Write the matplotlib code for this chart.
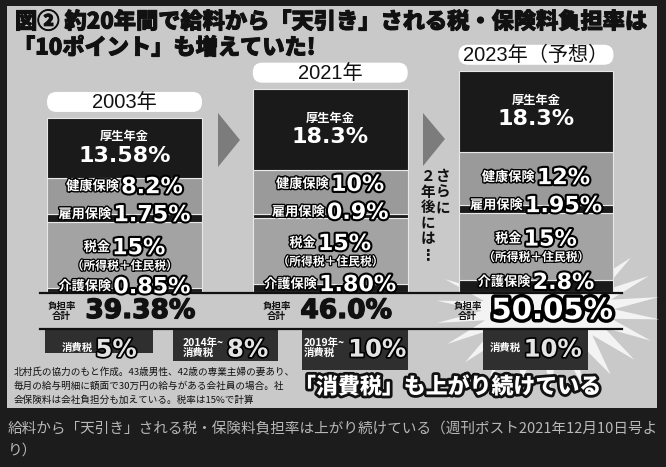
import numpy as np
import matplotlib
matplotlib.use('Agg')
import matplotlib.pyplot as plt
from matplotlib.patches import Rectangle, FancyBboxPatch, Polygon
from matplotlib.lines import Line2D
from matplotlib.transforms import Affine2D
import matplotlib.patheffects as pe

# ---------------- data ----------------
years = ['2003年', '2021年', '2023年（予想）']
pension = [13.58, 18.3, 18.3]        # 厚生年金
health = [8.2, 10.0, 12.0]           # 健康保険
employment = [1.75, 0.9, 1.95]       # 雇用保険
income_tax = [15.0, 15.0, 15.0]      # 税金（所得税+住民税）
nursing = [0.85, 1.80, 2.8]          # 介護保険
totals = [39.38, 46.0, 50.05]        # 負担率合計
pension_lbl = ['13.58%', '18.3%', '18.3%']
health_lbl = ['8.2%', '10%', '12%']
employment_lbl = ['1.75%', '0.9%', '1.95%']
tax_lbl = ['15%', '15%', '15%']
nursing_lbl = ['0.85%', '1.80%', '2.8%']
total_lbl = ['39.38%', '46.0%', '50.05%']
ctax_prefix = ['消費税', '2014年~\n消費税', '2019年~\n消費税', '消費税']
ctax_rate = ['5%', '8%', '10%', '10%']

title1 = '図② 約20年間で給料から「天引き」される税・保険料負担率は'
title2 = '「10ポイント」も増えていた!'
slogan = '「消費税」も上がり続けている'
note = ['北村氏の協力のもと作成。43歳男性、42歳の専業主婦の妻あり、',
        '毎月の給与明細に額面で30万円の給与がある会社員の場合。社',
        '会保険料は会社負担分も加えている。税率は15%で計算']
caption = ['給料から「天引き」される税・保険料負担率は上がり続けている（週刊ポスト2021年12月10日号よ',
           'り）']
side1 = 'さらに'
side2 = '２年後には⋮'

# ---------------- setup ----------------
W, H, DPI = 666, 467, 100
JP = ['Noto Sans CJK JP', 'DejaVu Sans']
NUM = ['DejaVu Sans']
BLACK = '#1a1a1a'

fig = plt.figure(figsize=(W / DPI, H / DPI), dpi=DPI, facecolor='#1c1c1c')
ax = fig.add_axes([0, 0, 1, 1])
ax.set_facecolor('none')
ax.axis('off')
X0, XS = 124.5, 205.75   # pixel of first category, pixels per category
Y0, YS = 292.0, 4.42     # pixel (from top) of 0 %, pixels per %
ax.set_xlim(-X0 / XS, (W - X0) / XS)
ax.set_ylim(-(H - Y0) / YS, Y0 / YS)
L = Affine2D().scale(1 / DPI, -1 / DPI).translate(0, H / DPI) + fig.dpi_scale_trans
R = fig.canvas.get_renderer()


def px(x, y):
    d = ax.transData.transform((x, y))
    return d[0], H - d[1]


def stroke(w, c='black'):
    return [pe.withStroke(linewidth=w, foreground=c)]


def T(x, y, s, **kw):
    kw.setdefault('transform', L)
    kw.setdefault('clip_on', False)
    return ax.text(x, y, s, **kw)


def pair(cx, cy, lab, val, lsize, vsize, gap=2, vcol='white', lsw=2.0, vsw=3.0, z=6):
    vpx = vsize * DPI / 72
    lpx = lsize * DPI / 72
    base = cy + 0.365 * vpx
    lbase = base - (0.365 * vpx - 0.38 * lpx)
    t1 = T(0, lbase, lab, fontsize=lsize, family=JP, weight='bold', color='white',
           ha='left', va='baseline', path_effects=stroke(lsw), zorder=z)
    t2 = T(0, base, val, fontsize=vsize, family=NUM, weight='bold', color=vcol,
           ha='left', va='baseline', path_effects=stroke(vsw) if vsw else [], zorder=z)
    w1 = t1.get_window_extent(R).width
    w2 = t2.get_window_extent(R).width
    x0 = cx - (w1 + gap + w2) / 2
    t1.set_x(x0)
    t2.set_x(x0 + w1 + gap)


# ---------------- background panel ----------------
ax.add_patch(Rectangle((7, 6), 650, 402, transform=L, fc='#c9c9c9', ec='none', zorder=0))

# starburst behind 2023
cxs, cys = 548, 310
n = 22
ang = np.linspace(0, 2 * np.pi, 2 * n, endpoint=False) + 0.12
rad_x = np.where(np.arange(2 * n) % 2 == 0, 112, 66)
rad_y = np.where(np.arange(2 * n) % 2 == 0, 78, 34)
star = np.column_stack([cxs + rad_x * np.cos(ang), cys + rad_y * np.sin(ang)])
ax.add_patch(Polygon(star, closed=True, transform=L, fc='#f3f3f3', ec='none', zorder=1))

# ---------------- stacked bars ----------------
x = np.arange(len(years))
bw = 0.753
cum = np.zeros(len(years))
layers = [(nursing, BLACK), (income_tax, '#a3a3a3'), (employment, BLACK),
          (health, '#9a9a9a'), (pension, BLACK)]
bounds = [cum.copy()]
for vals, col in layers:
    ax.bar(x, vals, bw, bottom=cum, color=col, edgecolor='#e8e8e8', linewidth=0.8, zorder=2)
    cum = cum + np.array(vals)
    bounds.append(cum.copy())
c0, c1, c2, c3, c4, c5 = bounds

# horizontal rules around total row
base_y = px(0, 0)[1]
for yy in (base_y + 1, base_y + 37):
    ax.add_line(Line2D([40, 622], [yy, yy], transform=L, color='#111111', lw=1.6, zorder=4))

# arrows
ax.add_patch(Polygon([(218, 113), (218, 167), (240, 140)], transform=L, fc='#7c7c7c', ec='none', zorder=2))
ax.add_patch(Polygon([(423, 113), (423, 166), (445, 139)], transform=L, fc='#7c7c7c', ec='none', zorder=2))

# vertical side text
for k, ch in enumerate(side1):
    T(443, 176 + 15.6 * k, ch, fontsize=10.5, family=JP, weight='bold', color='#111',
      ha='center', va='center', zorder=5)
for k, ch in enumerate(side2):
    T(428, 176 + 15.6 * k, ch, fontsize=10.5, family=JP, weight='bold', color='#111',
      ha='center', va='center', zorder=5)

for i in range(len(years)):
    xl, _ = px(i - bw / 2, 0)
    xr, _ = px(i + bw / 2, 0)
    xc, top = px(i, c5[i])
    # year pill
    pcy = top - 16
    ax.add_patch(FancyBboxPatch((xl, pcy - 10), xr - xl, 20, boxstyle='round,pad=0,rounding_size=9.5',
                                transform=L, fc='white', ec='none', zorder=3))
    T(xc, pcy + 0.5, years[i], fontsize=14.5, family=['Liberation Sans', 'Noto Sans CJK JP'],
      color='#111', ha='center', va='center', zorder=5)
    # pension
    pm = px(i, (c4[i] + c5[i]) / 2)[1]
    T(xc, pm - 11, '厚生年金', fontsize=8.8, family=JP, weight='bold', color='white',
      ha='center', va='center', zorder=6)
    T(xc, pm + 8, pension_lbl[i], fontsize=16, family=NUM, weight='bold', color='white',
      ha='center', va='center', zorder=6)
    # health & employment
    em = px(i, (c2[i] + c3[i]) / 2)[1]
    pair(xc, em - 33, '健康保険', health_lbl[i], 9.5, 16)
    pair(xc, em - 5, '雇用保険', employment_lbl[i], 9.5, 16)
    # tax
    tm = px(i, (c1[i] + c2[i]) / 2)[1]
    pair(xc, tm - 9, '税金', tax_lbl[i], 9.5, 16)
    T(xc, tm + 11, '（所得税＋住民税）', fontsize=8.5, family=JP, weight='bold', color='white',
      ha='center', va='center', path_effects=stroke(1.8), zorder=6)
    # nursing
    nm = px(i, (c0[i] + c1[i]) / 2)[1]
    pair(xc, nm - 5, '介護保険', nursing_lbl[i], 9.5, 16)
    # total row
    ty = base_y + 19
    last = i == len(years) - 1
    tv = T(xc + 16, ty, total_lbl[i], fontsize=21 if last else 19, family=NUM, weight='bold',
           color='white' if last else '#111', ha='center', va='center',
           path_effects=stroke(5) if last else stroke(1.0, '#111'), zorder=6)
    wv = tv.get_window_extent(R).width
    T(xc + 16 - wv / 2 - 24, ty, '負担率\n合計', fontsize=6.8, family=JP, weight='bold',
      color='#111', ha='center', va='center', linespacing=1.0, zorder=6)

# consumption-tax boxes
boxes = [(45, 153, 353), (173, 278, 361), (302, 408, 370), (483, 588, 370)]
for (bx0, bx1, by1), pre, rate in zip(boxes, ctax_prefix, ctax_rate):
    ax.add_patch(Rectangle((bx0, 329), bx1 - bx0, by1 - 329, transform=L, fc='#2f2f2f',
                           ec='none', zorder=3))
    cx, cy = (bx0 + bx1) / 2, 348
    t1 = T(0, cy, pre, fontsize=7.5, family=JP, weight='bold', color='white', ha='left',
           va='center', linespacing=1.0, zorder=6)
    t2 = T(0, cy + 0.365 * 17 * DPI / 72, rate, fontsize=17.5, family=NUM, weight='bold',
           color='#e4e4e4', ha='left', va='baseline', path_effects=stroke(2.5), zorder=6)
    w1 = t1.get_window_extent(R).width
    w2 = t2.get_window_extent(R).width
    x0 = cx - (w1 + 3 + w2) / 2
    t1.set_x(x0)
    t2.set_x(x0 + w1 + 3)

# slogan
T(448, 387, slogan, fontsize=15.8, family=JP, weight='heavy', color='white', ha='center',
  va='center', path_effects=[pe.withStroke(linewidth=4, foreground='#111')], zorder=7)

# footnote
for k, line in enumerate(note):
    T(14, 372 + 14 * k, line, fontsize=6.9, family=JP, color='#111', ha='left', va='center', zorder=6)

# title
for yy, s, xx in ((22, title1, 15), (48, title2, 13)):
    T(xx, yy, s, fontsize=16, family=JP, weight='heavy', color='#111', ha='left', va='center',
      path_effects=stroke(0.7, '#111'), zorder=6)

# caption
T(8, 429, caption[0], fontsize=10.5, family=JP, color='#b8b8b8', ha='left', va='center')
T(8, 451, caption[1], fontsize=10.5, family=JP, color='#b8b8b8', ha='left', va='center')

fig.savefig('out.png', dpi=DPI, facecolor=fig.get_facecolor())
